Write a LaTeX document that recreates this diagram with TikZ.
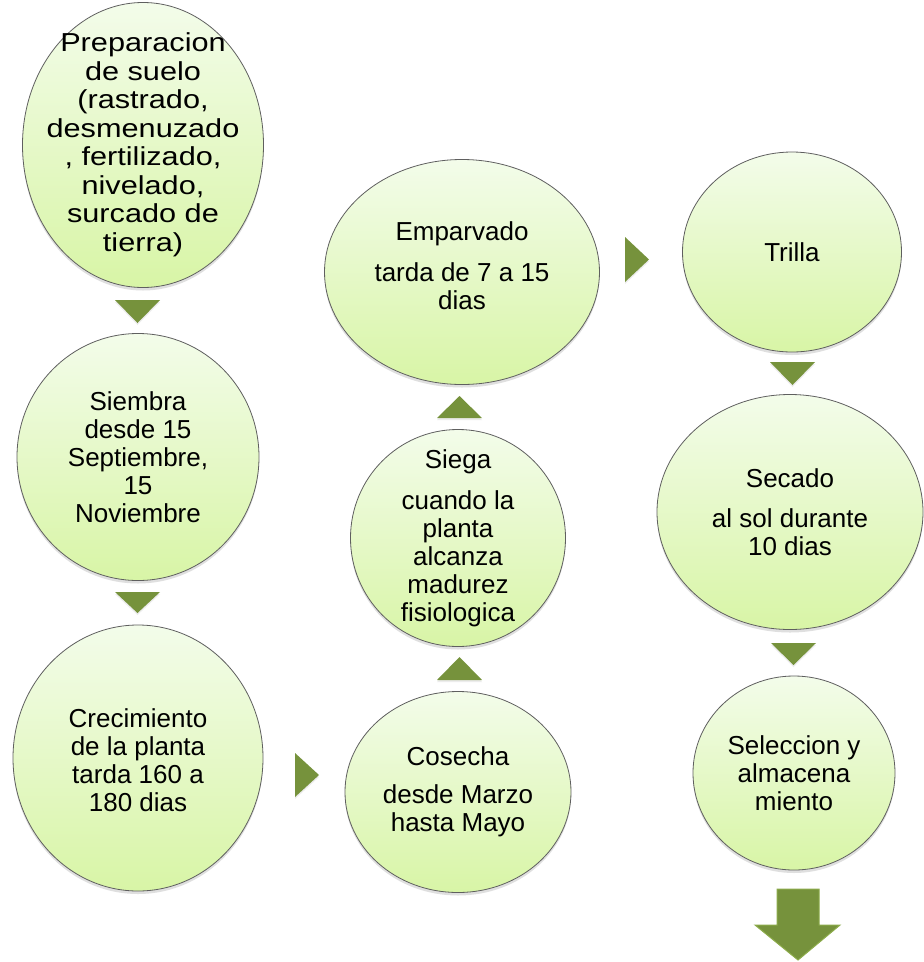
\documentclass[tikz,border=0pt]{standalone}
\usepackage{fontspec}
\setmainfont{Liberation Sans}
\newfontfamily\widefont[FakeStretch=1.18]{Liberation Sans}
\usetikzlibrary{shapes.geometric,shadows}
\definecolor{olivegreen}{RGB}{118,146,60}
\definecolor{olivelight}{RGB}{140,171,74}
\definecolor{filltop}{RGB}{243,252,234}
\definecolor{fillbot}{RGB}{216,245,166}
\definecolor{edgegray}{RGB}{95,95,95}
\begin{document}
\begin{tikzpicture}[x=1pt,y=-1pt,
  stage/.style={ellipse, draw=edgegray, line width=0.8pt, top color=filltop, bottom color=fillbot,
    inner sep=0pt, drop shadow={shadow xshift=0pt,shadow yshift=-3pt,opacity=0.25}},
  txt/.style={align=center, inner sep=0pt, text=black, font=\fontsize{26}{28}\selectfont},
  wtxt/.style={align=center, inner sep=0pt, text=black, font=\widefont\fontsize{26}{28.5}\selectfont},
  tri/.style={fill=olivegreen, drop shadow={shadow xshift=0pt,shadow yshift=-2pt,opacity=0.15}},
  bigarrow/.style={fill=olivegreen, draw=olivelight, line width=1pt}
]
\fill[white] (0,0) rectangle (924,962);
\useasboundingbox (0,0) rectangle (924,962);

% ellipses
\node[stage, minimum width=241pt, minimum height=285pt] (prep) at (143,145) {};
\node[stage, minimum width=242pt, minimum height=247pt] (siembra) at (138,457) {};
\node[stage, minimum width=250pt, minimum height=266pt] (crec) at (138,758) {};
\node[stage, minimum width=275pt, minimum height=225pt] (empar) at (462,272) {};
\node[stage, minimum width=215pt, minimum height=217pt] (siega) at (458,538) {};
\node[stage, minimum width=226pt, minimum height=201pt] (cosecha) at (458,792) {};
\node[stage, minimum width=219pt, minimum height=200pt] (trilla) at (792,252) {};
\node[stage, minimum width=266pt, minimum height=235pt] (secado) at (790,512) {};
\node[stage, minimum width=202pt, minimum height=194pt] (selec) at (794,773) {};

% texts
\node[wtxt] (prep-t) at (prep) {Preparacion\\de suelo\\(rastrado,\\desmenuzado\\, fertilizado,\\nivelado,\\surcado de\\tierra)};
\node[txt] (siembra-t) at (siembra) {Siembra\\desde 15\\Septiembre,\\15\\Noviembre};
\node[txt] (crec-t) at ([yshift=-2pt]crec.center) {Crecimiento\\de la planta\\tarda 160 a\\180 dias};
\node[txt] (empar-t) at ([yshift=6pt]empar.center) {Emparvado\\[13pt]tarda de 7 a 15\\dias};
\node[txt] (siega-t) at (siega) {Siega\\[13pt]cuando la\\planta\\alcanza\\madurez\\fisiologica};
\node[txt] (cosecha-t) at (cosecha) {Cosecha\\[10pt]desde Marzo\\hasta Mayo};
\node[txt] (trilla-t) at (trilla) {Trilla};
\node[txt] (secado-t) at (secado) {Secado\\[12pt]al sol durante\\10 dias};
\node[txt] (selec-t) at (selec) {Seleccion y\\almacena\\miento};

% connectors (triangles)
\fill[tri] (115,300) -- (160,300) -- (137.5,323) -- cycle;
\fill[tri] (115,592) -- (160,592) -- (137.5,613) -- cycle;
\fill[tri] (295,753) -- (295,797) -- (319,775) -- cycle;
\fill[tri] (437,680) -- (482,680) -- (459.5,657) -- cycle;
\fill[tri] (437,418) -- (482,418) -- (459.5,396) -- cycle;
\fill[tri] (625,237) -- (625,282) -- (649,259.5) -- cycle;
\fill[tri] (770,362) -- (815,362) -- (792.5,385) -- cycle;
\fill[tri] (771,643) -- (816,643) -- (793.5,665) -- cycle;

% big arrow
\draw[bigarrow] (777,889) -- (819,889) -- (819,925) -- (840,925) -- (798,960) -- (755,925) -- (777,925) -- cycle;
\end{tikzpicture}
\end{document}
